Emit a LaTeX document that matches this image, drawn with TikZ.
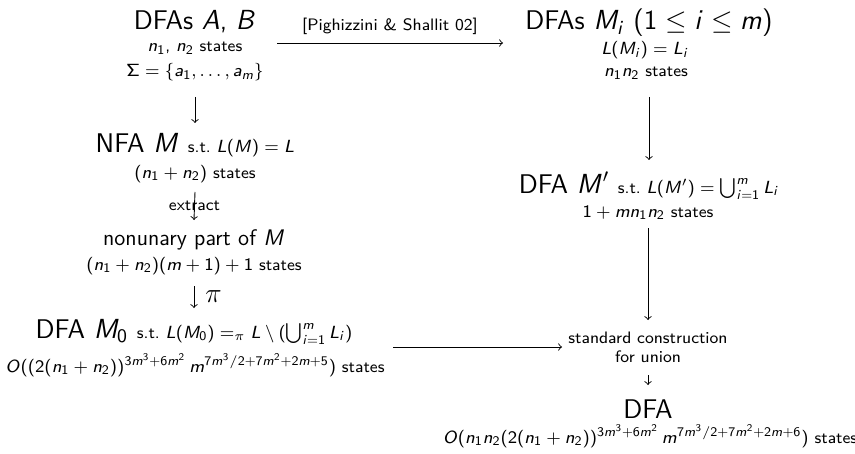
\documentclass[tikz,border=0pt]{standalone}
\usepackage{fix-cm}
\renewcommand{\familydefault}{\sfdefault}
\SetSymbolFont{operators}{normal}{OT1}{cmss}{m}{n}
\DeclareSymbolFont{sfitalic}{OT1}{cmss}{m}{sl}
\makeatletter
\def\sfl@loop#1{\ifx\relax#1\else\DeclareMathSymbol{#1}{\mathalpha}{sfitalic}{`#1}\expandafter\sfl@loop\fi}
\sfl@loop abcdefghijklmnopqrstuvwxyzABCDEFGHIJKLMNOPQRSTUVWXYZ\relax
\makeatother
\DeclareMathSizes{8.3}{8.8}{6.6}{5.2}
\DeclareMathSizes{13.5}{13.8}{9.6}{7}
\newcommand{\smallf}{\fontsize{8.3}{10}\selectfont}
\begin{document}
\begin{tikzpicture}[x=0.5pt,y=-0.5pt,line width=0.45pt,
  txt/.style={inner sep=0pt,outer sep=0pt,anchor=base},
  big/.style={txt,font=\fontsize{13.5}{16}\selectfont},
  med/.style={txt,font=\fontsize{11.25}{13.5}\selectfont},
  sml/.style={txt,font=\smallf},
  conn/.style={->},
  lbl/.style={font=\smallf,inner sep=0pt}]
\path[use as bounding box] (0,0) rectangle (855,454);
% left column
\node[big] (ab1) at (195,30) {DFAs $A$, $B$};
\node[sml] (ab2) at (195,52) {$n_1$, $n_2$ states};
\node[sml] (ab3) at (195,77) {$\Sigma=\{a_1,\ldots,a_m\}$};
\node[big] (nfa1) at (195,153) {NFA $M$ {\smallf s.t.\ $L(M)=L$}};
\node[sml] (nfa2) at (195,178) {$(n_1+n_2)$ states};
\node[med] (un1) at (194,245) {nonunary part of $M$};
\node[sml] (un2) at (194,270) {$(n_1+n_2)(m+1)+1$ states};
\node[big] (mz1) at (194,338) {DFA $M_0$ {\smallf s.t.\ $L(M_0)=_\pi L\setminus(\bigcup_{i=1}^m L_i)$}};
\node[sml] (mz2) at (195,372) {$O((2(n_1+n_2))^{3m^3+6m^2}\,m^{7m^3/2+7m^2+2m+5})$ states};
% right column
\node[big] (mi1) at (649,30) {DFAs $M_i$ $(1\le i\le m)$};
\node[sml] (mi2) at (645,55) {$L(M_i)=L_i$};
\node[sml] (mi3) at (646,77) {$n_1n_2$ states};
\node[big] (mp1) at (649,193) {DFA $M'$ {\smallf s.t.\ $L(M')=\bigcup_{i=1}^m L_i$}};
\node[sml] (mp2) at (648,217) {$1+mn_1n_2$ states};
\node[sml] (st1) at (648,343) {standard construction};
\node[sml] (st2) at (648,362) {for union};
\node[big] (fd1) at (648,418) {DFA};
\node[sml] (fd2) at (650,443) {$O(n_1n_2(2(n_1+n_2))^{3m^3+6m^2}\,m^{7m^3/2+7m^2+2m+6})$ states};
% connectors
\draw[conn] ([shift={(41pt,-6.5pt)}]ab1.base) -- ([shift={(-73pt,-6.5pt)}]mi1.base)
  node[midway,sml,yshift=6pt] {[Pighizzini \& Shallit 02]};
\draw[conn] ([yshift=-10pt]ab3.base) -- ([yshift=15pt]nfa1.base);
\draw[conn] ([yshift=-7pt]nfa2.base) -- ([yshift=12.5pt]un1.base)
  node[midway,lbl] {extract};
\draw[conn] ([yshift=-8pt]un2.base) -- ([yshift=15pt]mz1.base)
  node[midway,anchor=west,inner sep=0pt,xshift=5.5pt,font=\fontsize{13.5}{16}\selectfont] {$\pi$};
\draw[conn] ([shift={(99pt,12.5pt)}]mz2.base) -- ([shift={(-43pt,-2pt)}]st1.base);
\draw[conn] ([yshift=-10pt]mi3.base -| mp1.base) -- ([yshift=16.5pt]mp1.base);
\draw[conn] ([yshift=-5.5pt]mp2.base) -- ([yshift=11.5pt]st1.base);
\draw[conn] ([yshift=-6.5pt]st2.base) -- ([yshift=16.5pt]fd1.base);
\end{tikzpicture}
\end{document}
